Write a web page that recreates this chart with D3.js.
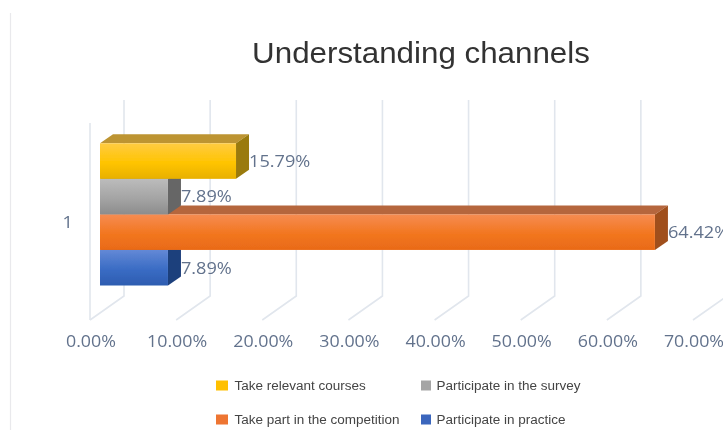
<!DOCTYPE html>
<html><head><meta charset="utf-8">
<script src="https://cdn.jsdelivr.net/npm/d3@7/dist/d3.min.js"></script>
<style>html,body{margin:0;padding:0;background:#fff;overflow:hidden}svg{display:block}</style>
</head><body><svg id="c" width="723" height="430"></svg>
<script>
const title = "Understanding channels";
const category = "1";
const series = ["Participate in practice","Take part in the competition","Participate in the survey","Take relevant courses"];
const values = [0.0789,0.6442,0.0789,0.1579];
const ticks = [0,0.1,0.2,0.3,0.4,0.5,0.6,0.7];
const legendOrder = ["Take relevant courses","Participate in the survey","Take part in the competition","Participate in practice"];
const colors = {"Participate in practice":["#6389d6","#3a6cc4","#2d5cb0","#3a66bd","#1f3f7c"],
 "Take part in the competition":["#f68c52","#f2761f","#e96a18","#ee7430","#a04f1c"],
 "Take relevant courses":["#ffcb42","#ffc400","#e8b000","#ffc000","#9a7a08"],
 "Participate in the survey":["#bcbcbc","#a4a4a4","#8c8c8c","#a5a5a5","#666666"]};
const topColors = {"Participate in practice":"#2a4f95","Take part in the competition":"#b5663c","Take relevant courses":"#bd9430","Participate in the survey":"#7a7a7a"};

const svg = d3.select("#c");
const defs = svg.append("defs");
defs.append("filter").attr("id","soft").attr("x","-5%").attr("y","-5%").attr("width","110%").attr("height","110%")
  .append("feGaussianBlur").attr("stdDeviation",0.45);
const root = svg.append("g").attr("filter","url(#soft)");

const x = d3.scaleLinear().domain([0,0.7]).range([90,693]);
const dx=34, dy=24, barInset=10, bdx=13, bdy=9;
const floorY=320, wallTop=123;
const band = d3.scaleBand().domain(series).range([285.5,143.3]);

function stretch(sel,k){ sel.each(function(){ const l=this.getComputedTextLength(); d3.select(this).attr("textLength",l*k).attr("lengthAdjust","spacingAndGlyphs"); }); return sel; }

// page edges
root.append("line").attr("x1",10.5).attr("x2",10.5).attr("y1",13).attr("y2",430).attr("stroke","#e9e9ec").attr("stroke-width",1.2);

// grid
const gridColor="#e1e6ed";
ticks.forEach(t=>{
  const p=[[x(t),floorY],[x(t)+dx,floorY-dy],[x(t)+dx,wallTop-23]];
  root.append("path").attr("d",d3.line()(p)).attr("fill","none").attr("stroke",gridColor).attr("stroke-width",1.6);
});
root.append("line").attr("x1",x(0)).attr("x2",x(0)).attr("y1",wallTop).attr("y2",floorY).attr("stroke",gridColor).attr("stroke-width",1.6);

// bars
series.forEach((s,i)=>{
  const g=root.append("g");
  const x0=x(0)+barInset, x1=x(values[i])+barInset;
  const y0=band(s), h=band.bandwidth();
  const id="g"+i, c=colors[s];
  const lg=defs.append("linearGradient").attr("id",id).attr("x1",0).attr("x2",0).attr("y1",0).attr("y2",1);
  lg.append("stop").attr("offset","0%").attr("stop-color",c[0]);
  lg.append("stop").attr("offset","55%").attr("stop-color",c[1]);
  lg.append("stop").attr("offset","100%").attr("stop-color",c[2]);
  const line=d3.line();
  g.append("path").attr("fill",topColors[s]).attr("d",line([[x0,y0],[x0+bdx,y0-bdy],[x1+bdx,y0-bdy],[x1,y0]])+"Z");
  g.append("path").attr("fill",c[4]).attr("d",line([[x1,y0],[x1+bdx,y0-bdy],[x1+bdx,y0+h-bdy],[x1,y0+h]])+"Z");
  g.append("rect").attr("x",x0).attr("y",y0).attr("width",x1-x0).attr("height",h).attr("fill","url(#"+id+")");
});

// labels
const txt="#62728c", font="'Open Sans',sans-serif";
series.forEach((s,i)=>{
  stretch(root.append("text").attr("x",x(values[i])+barInset+bdx).attr("y",band(s)+band.bandwidth()/2)
   .attr("dy","0.35em").attr("font-family",font).attr("font-size",16.5).attr("fill",txt)
   .text(d3.format(".2%")(values[i])),1.1);
});
ticks.forEach(t=>{
  stretch(root.append("text").attr("x",x(t)+1).attr("y",347).attr("text-anchor","middle")
   .attr("font-family",font).attr("font-size",16.5).attr("fill",txt).text(d3.format(".2%")(t)),1.08);
});
stretch(root.append("text").attr("x",62.5).attr("y",228).attr("font-family",font).attr("font-size",16.5).attr("fill",txt).text(category),1.1);

// title
stretch(root.append("text").attr("x",421).attr("y",63).attr("text-anchor","middle")
 .attr("font-family","'Liberation Sans',Arial,sans-serif").attr("font-size",29).attr("fill","#333").text(title),1.08);

// legend
const lx=d3.scalePoint().domain([0,1]).range([216,421]);
const ly=d3.scalePoint().domain([0,1]).range([385.5,419.5]);
const swatchW=[12,10], textGap=[18.5,15.5];
legendOrder.forEach((s,i)=>{
  const c=i%2, cx=lx(c), cy=ly(Math.floor(i/2));
  root.append("rect").attr("x",cx).attr("y",cy-5).attr("width",swatchW[c]).attr("height",10).attr("fill",colors[s][3]);
  stretch(root.append("text").attr("x",cx+textGap[c]).attr("y",cy+4).attr("font-family","'Liberation Sans',Arial,sans-serif")
   .attr("font-size",12.5).attr("fill","#444").text(s),1.08);
});
</script></body></html>
